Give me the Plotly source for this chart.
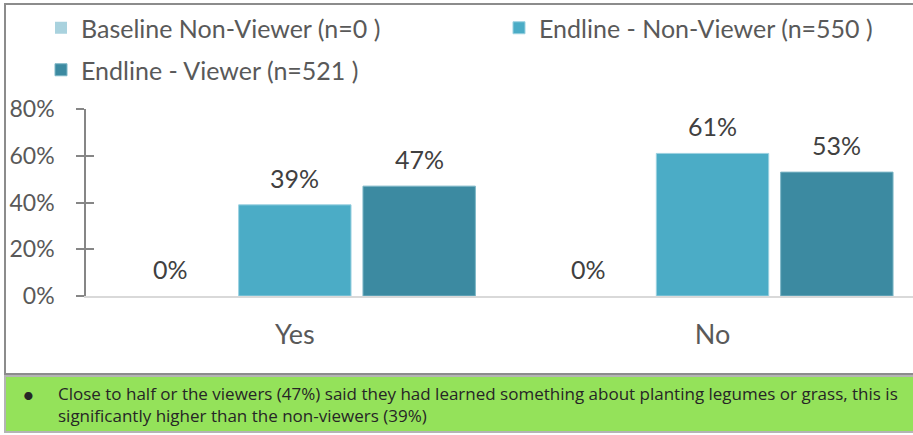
import plotly.graph_objects as go

# Survey answers: "learned something about planting legumes or grass"
categories = ["Yes", "No"]
series_names = [
    "Baseline Non-Viewer (n=0 )",
    "Endline - Non-Viewer (n=550 )",
    "Endline - Viewer (n=521 )",
]
baseline_non_viewer = [0, 0]
endline_non_viewer = [39, 61]
endline_viewer = [47, 53]
y_ticks = [0, 20, 40, 60, 80]
y_tick_labels = ["0%", "20%", "40%", "60%", "80%"]
note_text = ("Close to half or the viewers (47%) said they had learned something about "
             "planting legumes or grass, this is<br>significantly higher than the non-viewers (39%)")

colors = ["#A9D2DE", "#4BACC6", "#3C8AA1"]
edge = ["rgba(0,0,0,0)", "#9BD1E0", "#7DB6C6"]
series_values = [baseline_non_viewer, endline_non_viewer, endline_viewer]

W, H = 913, 435
M_L, M_R, M_T, M_B = 86, 0, 109, 139
PW, PH = W - M_L - M_R, H - M_T - M_B
BARGAP, BARGROUPGAP = 0.107, 0.096
FONT = "Lato"
GREY_TEXT = "#595959"


def xp(px):
    return (px - M_L) / PW


def yp(py):
    return (H - M_B - py) / PH


fig = go.Figure()
legends = ["legend", "legend3", "legend2"]
for i, (name, vals) in enumerate(zip(series_names, series_values)):
    fig.add_trace(go.Bar(
        x=categories, y=vals, name=name,
        marker=dict(color=colors[i], line=dict(color=edge[i], width=1 if i else 0)),
        legend=legends[i],
    ))

# invisible companion axis, used only for the inner half of the crossing ticks
fig.add_trace(go.Scatter(x=[], y=[], yaxis="y2", showlegend=False, hoverinfo="skip"))

# value labels above each bar
slot = (1 - BARGAP) / len(series_values)
annotations = []
for i, vals in enumerate(series_values):
    for c, v in enumerate(vals):
        annotations.append(dict(
            x=c + (i - 1) * slot, y=v, xref="x", yref="y",
            text=f"{v}%", showarrow=False, yanchor="middle", yshift=27,
            font=dict(family=FONT, size=25, color="#404040"),
        ))

# bullet note in the green box
annotations.append(dict(
    x=xp(28), y=yp(394), xref="paper", yref="paper", text="•", showarrow=False,
    xanchor="center", yanchor="middle", font=dict(family=FONT, size=22, color="#262626"),
))
annotations.append(dict(
    x=xp(56), y=yp(404), xref="paper", yref="paper", text=note_text, showarrow=False,
    xanchor="left", yanchor="middle", align="left",
    font=dict(family="Open Sans", size=17, color="#262626"),
))

shapes = [
    # chart frame
    dict(type="rect", xref="paper", yref="paper", x0=xp(5), x1=xp(920), y0=yp(374), y1=yp(4),
         line=dict(color="#8C8C8C", width=2), fillcolor="rgba(0,0,0,0)", layer="below"),
    # green note box
    dict(type="rect", xref="paper", yref="paper", x0=xp(5), x1=xp(920), y0=yp(432), y1=yp(376),
         line=dict(color="#B4B4B4", width=2), fillcolor="#94E25A", layer="below"),
]

legend_style = dict(
    orientation="h", xanchor="left", yanchor="middle",
    font=dict(family=FONT, size=25, color=GREY_TEXT), bgcolor="rgba(0,0,0,0)",
)

fig.update_layout(
    width=W, height=H,
    margin=dict(l=M_L, r=M_R, t=M_T, b=M_B, autoexpand=False),
    paper_bgcolor="white", plot_bgcolor="white",
    barmode="group", bargap=BARGAP, bargroupgap=BARGROUPGAP,
    font=dict(family=FONT, color=GREY_TEXT),
    xaxis=dict(
        type="category", range=[-0.5, 1.48], showgrid=False, zeroline=False,
        showline=True, linecolor="#D9D9D9", linewidth=2, ticks="",
        tickfont=dict(family=FONT, size=27, color=GREY_TEXT), ticklabelstandoff=14,
    ),
    yaxis=dict(
        range=[0, 80], tickmode="array", tickvals=y_ticks, ticktext=y_tick_labels,
        showgrid=False, zeroline=False,
        showline=True, linecolor="#868686", linewidth=1.5,
        ticks="outside", ticklen=8, tickwidth=1.5, tickcolor="#868686",
        tickfont=dict(family=FONT, size=23, color=GREY_TEXT), ticklabelstandoff=17,
    ),
    yaxis2=dict(
        overlaying="y", anchor="x", side="left", range=[0, 80], tickmode="array",
        tickvals=y_ticks, showticklabels=False, showgrid=False, zeroline=False, showline=False,
        ticks="inside", ticklen=8, tickwidth=1.5, tickcolor="#868686",
    ),
    legend=dict(x=xp(41), y=yp(28), **legend_style),
    legend3=dict(x=xp(499), y=yp(28), **legend_style),
    legend2=dict(x=xp(41), y=yp(70), **legend_style),
    annotations=annotations,
    shapes=shapes,
    showlegend=True,
)

fig.write_html("out.html")
